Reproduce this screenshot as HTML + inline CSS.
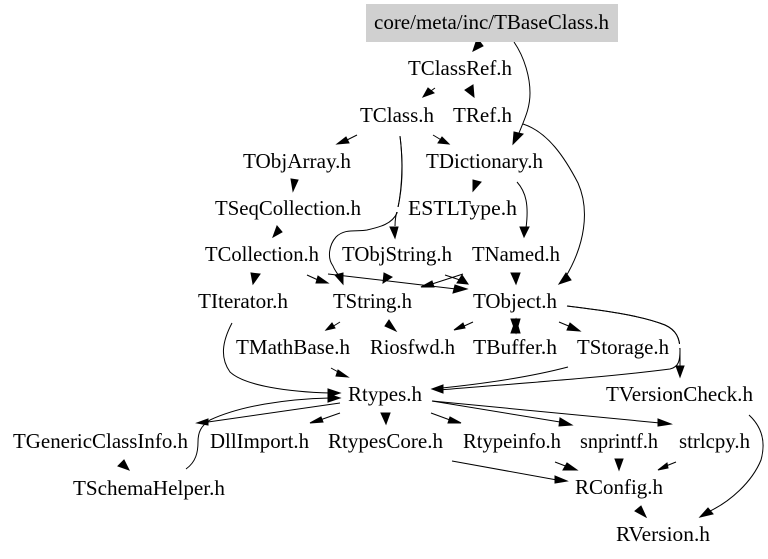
<!DOCTYPE html>
<html><head><meta charset="utf-8"><style>
html,body{margin:0;padding:0;background:#fff}
svg{display:block}
text{font-family:"Liberation Serif",serif;font-size:21px;fill:#000}
path{fill:none;stroke:#000;stroke-width:1}
polygon{fill:#000;stroke:#000;stroke-width:1}
</style></head><body>
<svg width="768" height="559" viewBox="0 0 768 559" xmlns="http://www.w3.org/2000/svg">
<rect width="768" height="559" fill="#fff"/>
<path d="M514,42C525,58 530,78 530,93C530,108 525,118 519,133"/>
<path d="M435,88L428,93"/>
<path d="M357,135L345,141"/>
<path d="M433,135L443,141"/>
<path d="M400,136C403,160 403,185 398,207C396,215 395,219 395,226"/>
<path d="M400,136C403,160 403,185 397,213C392,224 380,227 367,230C357,232 345,228 336,237C329,245 327,258 333,266C335,271 338,274 340,278"/>
<path d="M517,182C526,192 529,205 526,228"/>
<path d="M523,124C548,132 565,158 578,183C590,210 585,245 565,278"/>
<path d="M307,275L318,280"/>
<path d="M328,274C370,279 415,284 456,289"/>
<path d="M445,275L460,280"/>
<path d="M463,274L432,284"/>
<path d="M340,322L332,327"/>
<path d="M473,322L462,327"/>
<path d="M559,322L571,327"/>
<path d="M567,306C600,310 640,315 665,325C676,330 680,338 680,350L680,367"/>
<path d="M567,306C600,310 640,315 665,325C676,330 680,338 680,350C680,360 679,367 670,369C600,378 510,384 440,390"/>
<path d="M568,367C530,377 490,383 442,388"/>
<path d="M232,323C222,342 220,358 230,372C245,386 290,392 330,393"/>
<path d="M331,368L340,373"/>
<path d="M340,403L208,422"/>
<path d="M186,469C196,462 198,452 198,442C198,432 201,426 210,420C240,406 285,399 330,398"/>
<path d="M340,413L320,420"/>
<path d="M431,413L450,420"/>
<path d="M432,401L560,422"/>
<path d="M432,401L660,423"/>
<path d="M452,461L557,480"/>
<path d="M555,462L568,467"/>
<path d="M676,462L666,466"/>
<path d="M749,415C762,427 766,442 761,460C752,482 730,502 708,512"/>

<polygon points="473,51 483,46 480,42 476,42"/>
<polygon points="513,144 514,132 523,134"/>
<polygon points="423,97 428,88 434,93"/>
<polygon points="474,97 465,90 473,85"/>
<polygon points="337,144 346,137 349,143"/>
<polygon points="449,144 442,137 438,143"/>
<polygon points="293,191 291,179 298,180"/>
<polygon points="473,191 473,180 481,182"/>
<polygon points="524,237 520,227 529,227"/>
<polygon points="395,238 390,227 398,227"/>
<polygon points="343,284 335,275 343,273"/>
<polygon points="559,284 566,273 571,280"/>
<polygon points="273,237 277,226 282,232"/>
<polygon points="253,284 251,273 260,274"/>
<polygon points="328,283 318,276 316,283"/>
<polygon points="467,289 455,285 453,293"/>
<polygon points="383,283 384,273 392,277"/>
<polygon points="468,284 462,275 457,283"/>
<polygon points="421,287 432,281 434,287"/>
<polygon points="516,284 511,273 520,273"/>
<polygon points="326,330 332,323 335,328"/>
<polygon points="396,331 389,320 385,326"/>
<polygon points="454,330 463,323 465,328"/>
<polygon points="511,319 520,319 516,333"/>
<polygon points="511,333 520,333 516,319"/>
<polygon points="580,331 570,323 567,330"/>
<polygon points="680,377 676,366 684,366"/>
<polygon points="432,389 443,385 443,393"/>
<polygon points="340,393 328,389 328,397"/>
<polygon points="348,377 338,370 336,376"/>
<polygon points="197,423 208,419 208,425"/>
<polygon points="340,398 328,394 328,402"/>
<polygon points="310,423 321,417 323,422"/>
<polygon points="386,424 381,413 390,413"/>
<polygon points="461,423 450,417 448,423"/>
<polygon points="572,425 560,418 559,426"/>
<polygon points="671,424 658,419 658,426"/>
<polygon points="567,481 555,476 555,483"/>
<polygon points="577,470 567,463 563,470"/>
<polygon points="619,470 615,459 623,459"/>
<polygon points="658,470 667,463 668,468"/>
<polygon points="646,517 635,511 641,506"/>
<polygon points="700,517 708,508 713,514"/>
<polygon points="129,470 124,460 118,466"/>

<rect x="394" y="207" width="6" height="5" fill="#fff"/>
<rect x="677" y="344" width="6" height="4" fill="#fff"/>

<rect x="366" y="4" width="252" height="38" fill="#d0d0d0"/>
<text x="374" y="29" textLength="235" lengthAdjust="spacingAndGlyphs">core/meta/inc/TBaseClass.h</text>
<text x="408" y="75" textLength="104" lengthAdjust="spacingAndGlyphs">TClassRef.h</text>
<text x="360" y="122" textLength="74" lengthAdjust="spacingAndGlyphs">TClass.h</text>
<text x="453" y="122" textLength="59" lengthAdjust="spacingAndGlyphs">TRef.h</text>
<text x="243" y="168" textLength="108" lengthAdjust="spacingAndGlyphs">TObjArray.h</text>
<text x="426" y="168" textLength="117" lengthAdjust="spacingAndGlyphs">TDictionary.h</text>
<text x="215" y="215" textLength="146" lengthAdjust="spacingAndGlyphs">TSeqCollection.h</text>
<text x="408" y="215" textLength="109" lengthAdjust="spacingAndGlyphs">ESTLType.h</text>
<text x="205" y="261" textLength="114" lengthAdjust="spacingAndGlyphs">TCollection.h</text>
<text x="342" y="261" textLength="110" lengthAdjust="spacingAndGlyphs">TObjString.h</text>
<text x="472" y="261" textLength="88" lengthAdjust="spacingAndGlyphs">TNamed.h</text>
<text x="198" y="308" textLength="90" lengthAdjust="spacingAndGlyphs">TIterator.h</text>
<text x="333" y="308" textLength="79" lengthAdjust="spacingAndGlyphs">TString.h</text>
<text x="473" y="308" textLength="84" lengthAdjust="spacingAndGlyphs">TObject.h</text>
<text x="236" y="354" textLength="114" lengthAdjust="spacingAndGlyphs">TMathBase.h</text>
<text x="370" y="354" textLength="85" lengthAdjust="spacingAndGlyphs">Riosfwd.h</text>
<text x="473" y="354" textLength="84" lengthAdjust="spacingAndGlyphs">TBuffer.h</text>
<text x="577" y="354" textLength="92" lengthAdjust="spacingAndGlyphs">TStorage.h</text>
<text x="348" y="401" textLength="74" lengthAdjust="spacingAndGlyphs">Rtypes.h</text>
<text x="606" y="401" textLength="147" lengthAdjust="spacingAndGlyphs">TVersionCheck.h</text>
<text x="13" y="448" textLength="175" lengthAdjust="spacingAndGlyphs">TGenericClassInfo.h</text>
<text x="210" y="448" textLength="99" lengthAdjust="spacingAndGlyphs">DllImport.h</text>
<text x="328" y="448" textLength="115" lengthAdjust="spacingAndGlyphs">RtypesCore.h</text>
<text x="463" y="448" textLength="98" lengthAdjust="spacingAndGlyphs">Rtypeinfo.h</text>
<text x="580" y="448" textLength="78" lengthAdjust="spacingAndGlyphs">snprintf.h</text>
<text x="679" y="448" textLength="71" lengthAdjust="spacingAndGlyphs">strlcpy.h</text>
<text x="73" y="495" textLength="152" lengthAdjust="spacingAndGlyphs">TSchemaHelper.h</text>
<text x="575" y="494" textLength="88" lengthAdjust="spacingAndGlyphs">RConfig.h</text>
<text x="616" y="541" textLength="94" lengthAdjust="spacingAndGlyphs">RVersion.h</text>
</svg>
</body></html>
